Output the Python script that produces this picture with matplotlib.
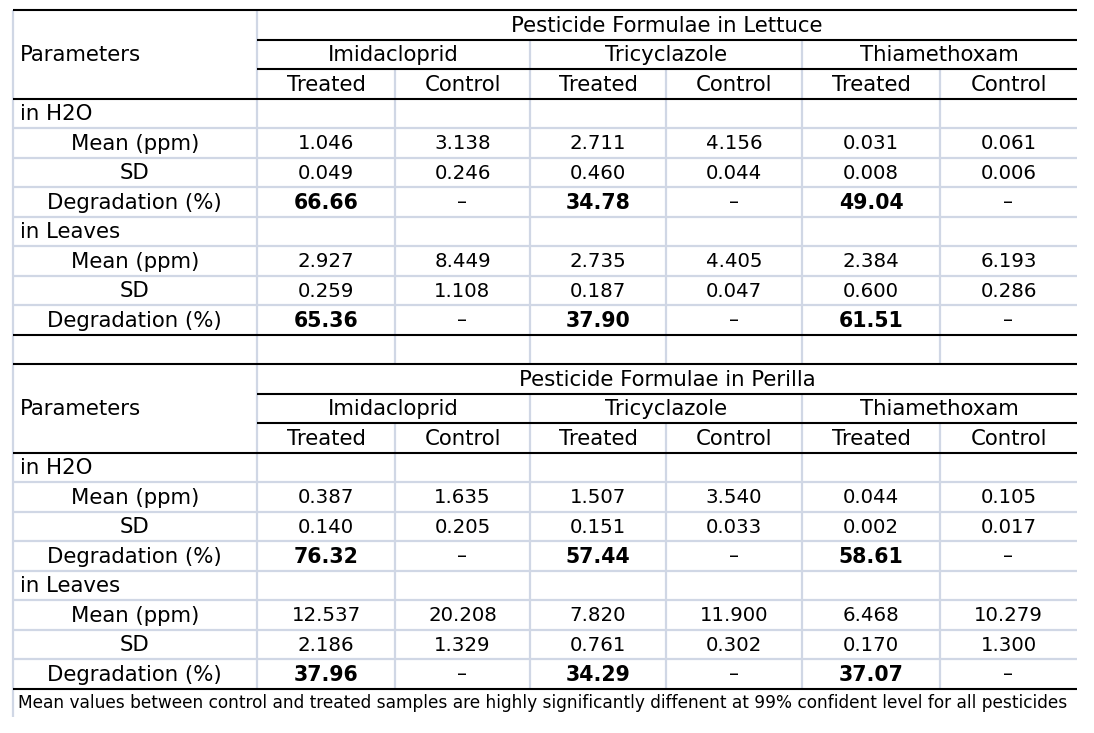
import matplotlib
matplotlib.use("Agg")
import matplotlib.pyplot as plt

# ---------------- data ----------------
crops = ["Lettuce", "Perilla"]
pesticides = ["Imidacloprid", "Tricyclazole", "Thiamethoxam"]
groups = ["Treated", "Control"]
media = ["in H2O", "in Leaves"]
params = ["Mean (ppm)", "SD", "Degradation (%)"]

# values per crop -> medium -> parameter -> 6 columns (Imi T, Imi C, Tri T, Tri C, Thi T, Thi C)
lettuce_h2o_mean = ["1.046", "3.138", "2.711", "4.156", "0.031", "0.061"]
lettuce_h2o_sd = ["0.049", "0.246", "0.460", "0.044", "0.008", "0.006"]
lettuce_h2o_deg = ["66.66", "–", "34.78", "–", "49.04", "–"]
lettuce_leaf_mean = ["2.927", "8.449", "2.735", "4.405", "2.384", "6.193"]
lettuce_leaf_sd = ["0.259", "1.108", "0.187", "0.047", "0.600", "0.286"]
lettuce_leaf_deg = ["65.36", "–", "37.90", "–", "61.51", "–"]

perilla_h2o_mean = ["0.387", "1.635", "1.507", "3.540", "0.044", "0.105"]
perilla_h2o_sd = ["0.140", "0.205", "0.151", "0.033", "0.002", "0.017"]
perilla_h2o_deg = ["76.32", "–", "57.44", "–", "58.61", "–"]
perilla_leaf_mean = ["12.537", "20.208", "7.820", "11.900", "6.468", "10.279"]
perilla_leaf_sd = ["2.186", "1.329", "0.761", "0.302", "0.170", "1.300"]
perilla_leaf_deg = ["37.96", "–", "34.29", "–", "37.07", "–"]

footnote = ("Mean values between control and treated samples are highly "
            "significantly diffenent at 99% confident level for all pesticides")

blocks = {
    "Lettuce": [[lettuce_h2o_mean, lettuce_h2o_sd, lettuce_h2o_deg],
                [lettuce_leaf_mean, lettuce_leaf_sd, lettuce_leaf_deg]],
    "Perilla": [[perilla_h2o_mean, perilla_h2o_sd, perilla_h2o_deg],
                [perilla_leaf_mean, perilla_leaf_sd, perilla_leaf_deg]],
}

# ---------------- layout ----------------
W, H = 1094, 733
fig = plt.figure(figsize=(W / 100, H / 100), dpi=100)
ax = fig.add_axes([0, 0, 1, 1])
ax.set_xlim(0, W)
ax.set_ylim(H, 0)
ax.axis("off")

xl = 12.5
xs = [257, 395, 530, 666, 802, 940, 1077]
y0 = 10
rh = 29.5
GREY = "#D0D7E5"
FS = 15.3      # labels
FSN = 14.2     # numbers
FSB = 14.8     # bold numbers
FAM = "DejaVu Sans"

def ry(r):
    return y0 + r * rh

def hline(y, x1, x2, color, lw=1.5, z=2):
    ax.plot([x1, x2], [y, y], color=color, lw=lw, solid_capstyle="butt", zorder=z)

def vline(x, ya, yb, color=GREY, lw=1.6, z=1):
    ax.plot([x, x], [ya, yb], color=color, lw=lw, solid_capstyle="butt", zorder=z)

def txt(x, r, s, ha="center", bold=False, size=FS):
    ax.text(x, ry(r) + rh / 2 + 1.0, s, ha=ha, va="center", fontsize=size,
            fontweight="bold" if bold else "normal", family=FAM, color="black")

n_rows = 23
# left edge grey
vline(xl, ry(0), ry(n_rows) + 28)
vline(xs[0], ry(0), ry(n_rows))

for bi, crop in enumerate(crops):
    base = bi * 12
    # vertical grey lines
    for k in (2, 4):
        vline(xs[k], ry(base + 1), ry(base + 12) if bi == 0 else ry(n_rows))
    for k in (1, 3, 5):
        vline(xs[k], ry(base + 2), ry(base + 12) if bi == 0 else ry(n_rows))
    # header text
    txt(xl + 7, base + 1, "Parameters", ha="left")
    txt((xs[0] + xs[-1]) / 2, base, f"Pesticide Formulae in {crop}")
    for pi, p in enumerate(pesticides):
        txt((xs[2 * pi] + xs[2 * pi + 2]) / 2, base + 1, p)
        for gi, g in enumerate(groups):
            c = 2 * pi + gi
            txt((xs[c] + xs[c + 1]) / 2, base + 2, g)
    # body
    r = base + 3
    for mi, m in enumerate(media):
        txt(xl + 7, r, m, ha="left")
        r += 1
        for pj, pn in enumerate(params):
            txt((xl + xs[0]) / 2, r, pn)
            vals = blocks[crop][mi][pj]
            for c, v in enumerate(vals):
                bold = (pj == 2 and v != "–")
                txt((xs[c] + xs[c + 1]) / 2, r, v, bold=bold,
                    size=FSB if bold else FSN)
            r += 1
    # grey horizontal lines between body rows
    for rr in range(base + 4, base + 11):
        hline(ry(rr), xl, xs[-1], GREY, lw=1.6, z=1)
    # black lines
    hline(ry(base), xl, xs[-1], "black")
    hline(ry(base + 1), xs[0], xs[-1], "black")
    hline(ry(base + 2), xs[0], xs[-1], "black")
    hline(ry(base + 3), xl, xs[-1], "black")
    hline(ry(base + 11), xl, xs[-1], "black")

ax.text(xl + 5, ry(n_rows) + 14, footnote, ha="left", va="center",
        fontsize=12.27, family=FAM, color="black")

fig.savefig("out.png", dpi=100)
